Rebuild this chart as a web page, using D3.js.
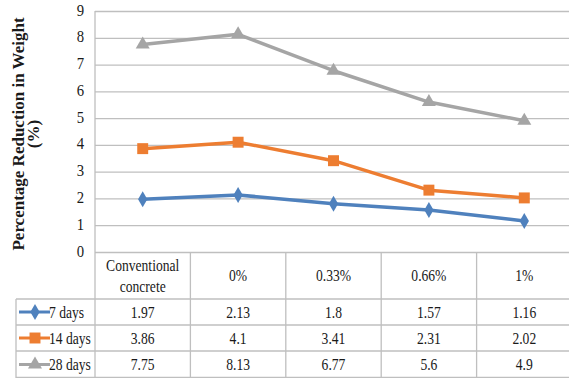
<!DOCTYPE html>
<html>
<head>
<meta charset="utf-8">
<script src="https://cdn.jsdelivr.net/npm/d3@7"></script>
<style>
  html, body { margin: 0; padding: 0; background: #fff; }
  svg { display: block; }
</style>
</head>
<body>
<svg id="chart" width="569" height="378"></svg>
<script>
// Categories (fibre content) and weight-loss series
const categories = ["Conventional concrete", "0%", "0.33%", "0.66%", "1%"];
const categoryLines = [["Conventional", "concrete"], ["0%"], ["0.33%"], ["0.66%"], ["1%"]];
const days7 = [1.97, 2.13, 1.8, 1.57, 1.16];
const days14 = [3.86, 4.1, 3.41, 2.31, 2.02];
const days28 = [7.75, 8.13, 6.77, 5.6, 4.9];
const seriesNames = ["7 days", "14 days", "28 days"];
const yTicks = [0, 1, 2, 3, 4, 5, 6, 7, 8, 9];

const series = [
  { name: seriesNames[0], values: days7, color: "#4F81BD", marker: "diamond" },
  { name: seriesNames[1], values: days14, color: "#ED7D31", marker: "square" },
  { name: seriesNames[2], values: days28, color: "#A5A5A5", marker: "triangle" }
];

const FONT = '"Liberation Serif", "Times New Roman", serif';
const svg = d3.select("#chart");
const plotLeft = 95, plotRight = 572, plotTop = 11, plotBottom = 252;
const gridColor = "#bfbfbf";
const textColor = "#1a1a1a";

const x = d3.scaleBand().domain(categories).range([plotLeft, plotRight]).padding(0);
const y = d3.scaleLinear().domain([0, 9]).range([plotBottom, plotTop]);
const cx = c => x(c) + x.bandwidth() / 2;

// condensed serif label
function label(px, py, str, opts = {}) {
  const sx = opts.sx || 0.85;
  return svg.append("text")
    .attr("transform", `translate(${px},${py}) scale(${sx},1)`)
    .attr("dy", "0.35em")
    .attr("text-anchor", opts.anchor || "middle")
    .style("font-family", FONT)
    .style("font-size", (opts.size || 16) + "px")
    .attr("fill", textColor)
    .text(str);
}

// Horizontal gridlines
const yAxis = d3.axisLeft(y).tickValues(yTicks).tickSize(-(plotRight - plotLeft)).tickFormat("");
const gy = svg.append("g").attr("transform", `translate(${plotLeft},0)`).call(yAxis);
gy.select(".domain").remove();
gy.selectAll(".tick line").attr("stroke", gridColor).attr("stroke-width", 1.3);
gy.selectAll(".tick text").remove();

// y tick labels
yTicks.forEach(t => label(84, y(t) - 1, String(t), { anchor: "end", size: 16, sx: 0.92 }));

// Axis title
const title = svg.append("text")
  .attr("transform", "translate(24,134) rotate(-90)")
  .attr("text-anchor", "middle")
  .style("font-family", FONT)
  .style("font-weight", "bold")
  .style("font-size", "17px")
  .attr("fill", textColor);
title.append("tspan").attr("x", 0).attr("dy", 0).text("Percentage Reduction in Weight");
title.append("tspan").attr("x", 0).attr("dy", 15).text("(%)");

// Data table below the plot
const rowTop = [252, 299, 325, 351];
const rowBottom = 378;
const tableLeft = 16;
const tg = svg.append("g").attr("stroke", gridColor).attr("stroke-width", 1.3);
tg.append("line").attr("x1", plotLeft).attr("x2", plotLeft).attr("y1", plotTop).attr("y2", rowBottom);
tg.append("line").attr("x1", tableLeft).attr("x2", tableLeft).attr("y1", rowTop[1]).attr("y2", rowBottom);
categories.forEach((c, i) => {
  if (i === 0) return;
  tg.append("line").attr("x1", x(c)).attr("x2", x(c)).attr("y1", plotBottom).attr("y2", rowBottom);
});
rowTop.slice(1).forEach(yy => {
  tg.append("line").attr("x1", tableLeft).attr("x2", plotRight).attr("y1", yy).attr("y2", yy);
});
tg.append("line").attr("x1", tableLeft).attr("x2", plotRight).attr("y1", rowBottom - 0.5).attr("y2", rowBottom - 0.5);

// header labels
categories.forEach((c, i) => {
  const lines = categoryLines[i];
  const midY = (rowTop[0] + rowTop[1]) / 2;
  const lh = 21;
  lines.forEach((t, k) => label(cx(c), midY + (k - (lines.length - 1) / 2) * lh, t));
});

// marker symbols
const symbolFor = {
  diamond: d3.symbol().type(d3.symbolDiamond).size(75),
  square: d3.symbol().type(d3.symbolSquare).size(120),
  triangle: d3.symbol().type(d3.symbolTriangle).size(85)
};

// value rows with legend keys
series.forEach((s, r) => {
  const midY = (rowTop[r + 1] + (rowTop[r + 2] || rowBottom)) / 2;
  svg.append("line")
    .attr("x1", 19).attr("x2", 50).attr("y1", midY).attr("y2", midY)
    .attr("stroke", s.color).attr("stroke-width", 3);
  svg.append("path").attr("d", symbolFor[s.marker]())
    .attr("transform", `translate(35,${midY})`).attr("fill", s.color);
  label(49, midY, s.name, { anchor: "start" });
  s.values.forEach((v, i) => label(cx(categories[i]), midY, String(v)));
});

// lines and markers
const line = d3.line().x((d, i) => cx(categories[i])).y(d => y(d));
series.forEach(s => {
  svg.append("path").datum(s.values).attr("d", line)
    .attr("fill", "none").attr("stroke", s.color).attr("stroke-width", 3.5)
    .attr("stroke-linejoin", "round");
  svg.selectAll(null).data(s.values).enter().append("path")
    .attr("d", symbolFor[s.marker]())
    .attr("transform", (d, i) => `translate(${cx(categories[i])},${y(d)})`)
    .attr("fill", s.color);
});
</script>
</body>
</html>
